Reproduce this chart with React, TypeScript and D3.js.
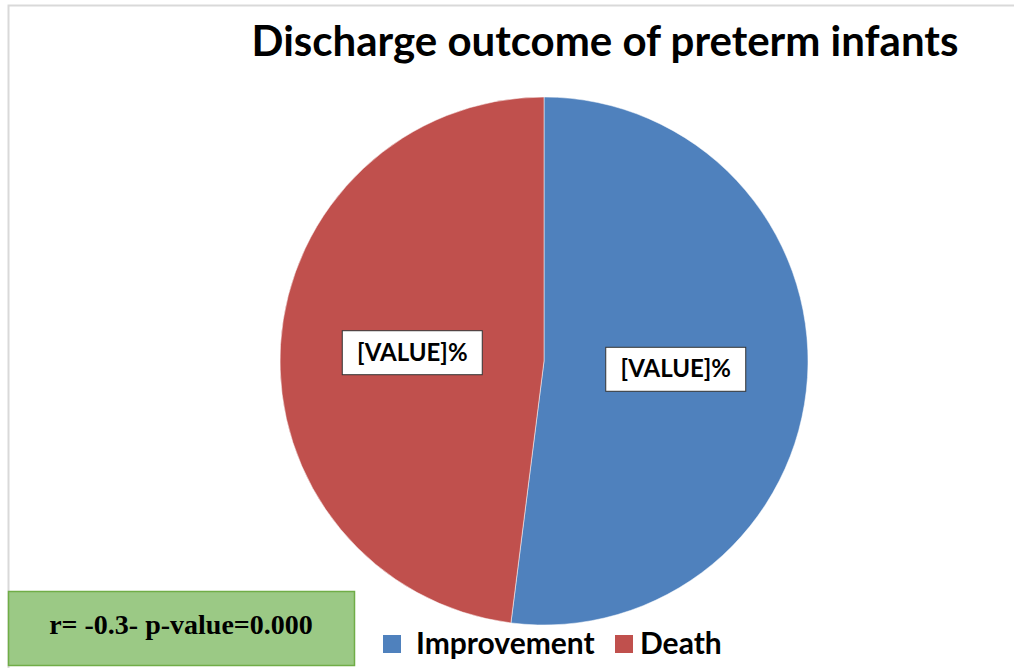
import React from "react";
import * as d3 from "d3";

const categories = ["Improvement", "Death"];
const values = [52, 48];
const colors = ["#4f81bd", "#c0504d"];
const labelTexts = ["[VALUE]%", "[VALUE]%"];
const title = "Discharge outcome of preterm infants";
const note = "r= -0.3- p-value=0.000";

export default function App() {
  const W = 1014, H = 668;
  const cx = 544, cy = 361, R = 264;
  const pie = d3.pie<number>().sort(null).value((d) => d)(values);
  const arc = d3.arc<d3.PieArcDatum<number>>().innerRadius(0).outerRadius(R);
  const labelArc = d3.arc<d3.PieArcDatum<number>>().innerRadius(132).outerRadius(132);
  const font = "Lato, 'Open Sans', sans-serif";
  return (
    <svg width={W} height={H} style={{ position: "absolute", left: 0, top: 0, background: "#fff" }}>
      <rect x={8.5} y={5.5} width={1020} height={680} fill="#fff" stroke="#d9d9d9" strokeWidth={2} />
      <text x={605} y={56} textAnchor="middle" fontFamily={font} fontWeight="bold" fontSize={42}>{title}</text>
      <g transform={`translate(${cx},${cy})`}>
        {pie.map((p, i) => (
          <path key={i} d={arc(p) || ""} fill={colors[i]} stroke="#fff" strokeWidth={0.5} />
        ))}
        {pie.map((p, i) => {
          const [lx, ly] = labelArc.centroid(p);
          return (
            <g key={"l" + i} transform={`translate(${lx},${ly})`}>
              <rect x={-70} y={-22} width={140} height={44} fill="#fff" stroke="#333" strokeWidth={1} />
              <text x={0} y={8} textAnchor="middle" fontFamily={font} fontWeight="bold" fontSize={24}>{labelTexts[i]}</text>
            </g>
          );
        })}
      </g>
      <rect x={8.5} y={591.5} width={346} height={74} fill="#9bc985" stroke="#70ad47" strokeWidth={1.5} />
      <text x={181} y={634} textAnchor="middle" fontFamily="'Liberation Serif', 'Times New Roman', serif" fontWeight="bold" fontSize={28}>{note}</text>
      <g>
        <rect x={383} y={635} width={18} height={18} fill={colors[0]} />
        <text x={416} y={654} fontFamily={font} fontWeight="bold" fontSize={30}>{categories[0]}</text>
        <rect x={615} y={635} width={18} height={18} fill={colors[1]} />
        <text x={640} y={654} fontFamily={font} fontWeight="bold" fontSize={30}>{categories[1]}</text>
      </g>
    </svg>
  );
}
